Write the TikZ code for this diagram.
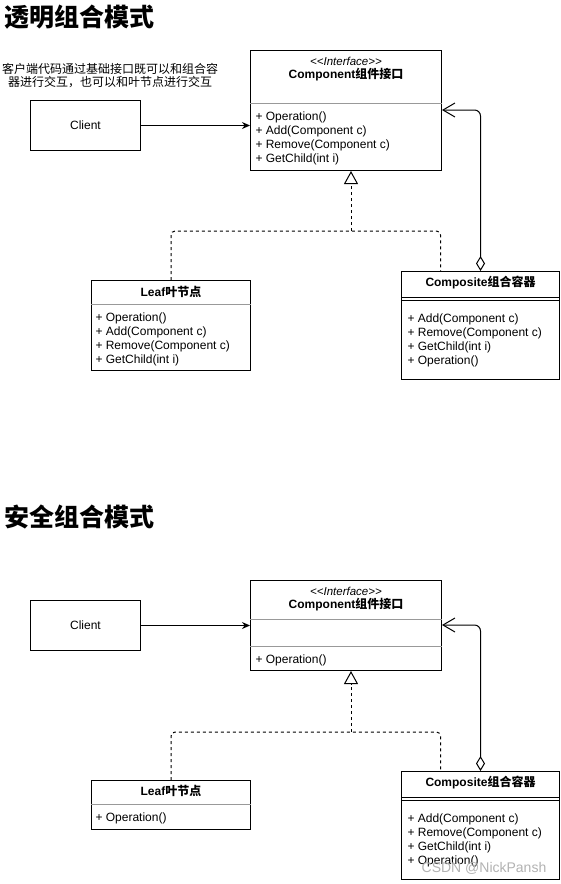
\documentclass[tikz,border=0pt]{standalone}
\usepackage{fontspec}
\setmainfont{Liberation Sans}
\newfontfamily\cjk{Noto Sans CJK SC}
\newcommand{\zh}[1]{{\cjk #1}}
\usetikzlibrary{arrows.meta,positioning}

\begin{document}
\begin{tikzpicture}[x=1pt,y=-1pt,line width=1pt,
  class box/.style={draw,rectangle,anchor=north west,inner sep=0pt},
  client box/.style={class box,font=\fontsize{12}{14}\selectfont},
  class name/.style={inner sep=0pt,font=\fontsize{12}{14}\selectfont\bfseries},
  stereo/.style={inner sep=0pt,font=\fontsize{11.5}{13}\selectfont\itshape},
  method list/.style={inner sep=0pt,anchor=north west,align=left,font=\fontsize{12}{14}\selectfont},
  note text/.style={inner sep=0pt,align=center,font=\fontsize{12}{13}\selectfont\cjk},
  page title/.style={inner sep=0pt,anchor=west,font=\fontsize{25}{30}\selectfont\bfseries\cjk},
  sep line/.style={draw=black!40,line width=0.8pt},
  assoc/.style={-{Stealth[length=8pt,width=7pt]}},
  aggr/.style={{Diamond[open,length=15pt,width=9pt]}-{Straight Barb[length=12pt,width=14pt]},rounded corners=6pt},
  realize/.style={dash pattern=on 3pt off 3pt,rounded corners=4pt},
  watermark/.style={inner sep=0pt,text=black!30,font=\fontsize{14}{16}\selectfont}]

  \useasboundingbox (0,0) rectangle (561,884);

  % titles
  \node[page title] (title1) at (4,17) {透明组合模式};
  \node[page title] (title2) at (4,517) {安全组合模式};

  \node[note text] (note1) at (110,76) {客户端代码通过基础接口既可以和组合容\\器进行交互，也可以和叶节点进行交互};

  % transparent composite
  \node[client box, minimum width=110pt, minimum height=50pt] (client1) at (30,100) {Client};
  \node[class box, minimum width=191pt, minimum height=120pt] (comp1) at (250,50) {};
  \node[class box, minimum width=159pt, minimum height=90pt] (leaf1) at (91,280) {};
  \node[class box, minimum width=158pt, minimum height=108pt] (compo1) at (401,271) {};

  \node[stereo] (comp1 stereo) at ([yshift=-11pt]comp1.north) {<{}<Interface>{}>};
  \node[class name] (comp1 name) at ([yshift=-25pt]comp1.north) {Component\zh{组件接口}};
  \draw[sep line] ([yshift=-53pt]comp1.north west) -- ([yshift=-53pt]comp1.north east);
  \node[method list] (comp1 ops) [below right=61pt and 5pt of comp1.north west]
    {+ Operation()\\+ Add(Component c)\\+ Remove(Component c)\\+ GetChild(int i)};

  \node[class name] (leaf1 name) at ([yshift=-12pt]leaf1.north) {Leaf\zh{叶节点}};
  \draw[sep line] ([yshift=-24pt]leaf1.north west) -- ([yshift=-24pt]leaf1.north east);
  \node[method list] (leaf1 ops) [below right=32pt and 4pt of leaf1.north west]
    {+ Operation()\\+ Add(Component c)\\+ Remove(Component c)\\+ GetChild(int i)};

  \node[class name] (compo1 name) at ([yshift=-12pt]compo1.north) {Composite\zh{组合容器}};
  \draw ([yshift=-26pt]compo1.north west) -- ([yshift=-26pt]compo1.north east);
  \draw ([yshift=-29pt]compo1.north west) -- ([yshift=-29pt]compo1.north east);
  \node[method list] (compo1 ops) [below right=42pt and 6pt of compo1.north west]
    {+ Add(Component c)\\+ Remove(Component c)\\+ GetChild(int i)\\+ Operation()};

  \draw[assoc] (client1.east) -- (client1.east -| comp1.west);
  \draw[aggr] (compo1.north) |- ([yshift=-60pt]comp1.north east);
  \coordinate (join1) at ([xshift=5pt,yshift=-60pt]comp1.south);
  \draw[realize] (leaf1.north) |- (join1) -| ([xshift=-40pt]compo1.north);
  \draw[realize,-{Triangle[open,length=13pt,width=14pt]}] (join1) -- ([xshift=5pt]comp1.south);

  % safe composite
  \node[client box, minimum width=110pt, minimum height=50pt] (client2) at (30,600) {Client};
  \node[class box, minimum width=191pt, minimum height=90pt] (comp2) at (250,580) {};
  \node[class box, minimum width=159pt, minimum height=49pt] (leaf2) at (91,780) {};
  \node[class box, minimum width=158pt, minimum height=108pt] (compo2) at (401,771) {};

  \node[stereo] (comp2 stereo) at ([yshift=-11pt]comp2.north) {<{}<Interface>{}>};
  \node[class name] (comp2 name) at ([yshift=-25pt]comp2.north) {Component\zh{组件接口}};
  \draw[sep line] ([yshift=-39pt]comp2.north west) -- ([yshift=-39pt]comp2.north east);
  \draw[sep line] ([yshift=-66pt]comp2.north west) -- ([yshift=-66pt]comp2.north east);
  \node[method list] (comp2 ops) [below right=74pt and 5pt of comp2.north west] {+ Operation()};

  \node[class name] (leaf2 name) at ([yshift=-11pt]leaf2.north) {Leaf\zh{叶节点}};
  \draw[sep line] ([yshift=-24pt]leaf2.north west) -- ([yshift=-24pt]leaf2.north east);
  \node[method list] (leaf2 ops) [below right=32pt and 4pt of leaf2.north west] {+ Operation()};

  \node[class name] (compo2 name) at ([yshift=-12pt]compo2.north) {Composite\zh{组合容器}};
  \draw ([yshift=-26pt]compo2.north west) -- ([yshift=-26pt]compo2.north east);
  \draw ([yshift=-29pt]compo2.north west) -- ([yshift=-29pt]compo2.north east);
  \node[method list] (compo2 ops) [below right=42pt and 6pt of compo2.north west]
    {+ Add(Component c)\\+ Remove(Component c)\\+ GetChild(int i)\\+ Operation()};

  \draw[assoc] (client2.east) -- (client2.east -| comp2.west);
  \draw[aggr] (compo2.north) |- ([yshift=-45pt]comp2.north east);
  \coordinate (join2) at ([xshift=5pt,yshift=-61pt]comp2.south);
  \draw[realize] (leaf2.north) |- (join2) -| ([xshift=-40pt]compo2.north);
  \draw[realize,-{Triangle[open,length=13pt,width=14pt]}] (join2) -- ([xshift=5pt]comp2.south);

  \node[watermark] (mark) at (484,868) {CSDN @NickPansh};

\end{tikzpicture}
\end{document}
